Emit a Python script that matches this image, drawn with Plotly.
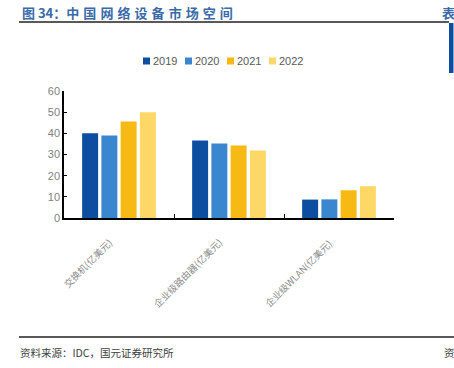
import plotly.graph_objects as go

categories = ["交换机(亿美元)", "企业级路由器(亿美元)", "企业级WLAN(亿美元)"]
years = ["2019", "2020", "2021", "2022"]
v2019 = [40.0, 36.6, 8.7]
v2020 = [39.0, 35.2, 8.8]
v2021 = [45.6, 34.3, 13.1]
v2022 = [50.0, 31.9, 15.0]
yticks = [0, 10, 20, 30, 40, 50, 60]

series = [v2019, v2020, v2021, v2022]
colors = ["#0D4EA0", "#3A87D0", "#F7B913", "#FDD867"]

W, H = 454, 368
L, R, T, B = 64, 60, 91, 150

fig = go.Figure()
for name, vals, c in zip(years, series, colors):
    fig.add_trace(go.Bar(x=categories, y=vals, name=name, marker=dict(color=c, line=dict(width=0))))

def px(x):
    return (x - L) / (W - L - R)

def py(y):
    return (H - B - y) / (H - T - B)

fig.update_layout(
    width=W, height=H,
    margin=dict(l=L, r=R, t=T, b=B, autoexpand=False),
    paper_bgcolor="white", plot_bgcolor="white",
    barmode="group", bargap=0.30, bargroupgap=0.17,
    font=dict(family="Liberation Sans, Arial", color="#595959"),
    showlegend=False,
    xaxis=dict(showline=True, linecolor="black", linewidth=1.5, ticks="inside", ticklen=4,
               tickcolor="black", tickson="boundaries", showticklabels=False,
               showgrid=False, zeroline=False, range=[-0.5, 2.5], automargin=False),
    yaxis=dict(range=[0, 60], tickvals=yticks, showline=True, linecolor="black", linewidth=1.5,
               ticks="inside", ticklen=3, tickcolor="black", showgrid=False, zeroline=False,
               tickfont=dict(size=11, color="#7f7f7f"), automargin=False),
)

# rotated category labels
for cat in categories:
    fig.add_annotation(text=cat, xref="x", yref="paper", x=cat, y=py(233),
                       xanchor="right", yanchor="top", xshift=-1, textangle=-45, showarrow=False,
                       font=dict(family="Noto Sans CJK SC", size=9.5, color="#8c8c8c"))

# manual legend
leg_x = [143, 185, 227, 269]
for yr, c, lx in zip(years, colors, leg_x):
    fig.add_shape(type="rect", xref="paper", yref="paper", x0=px(lx), x1=px(lx + 7),
                  y0=py(64.5), y1=py(57.5), line=dict(width=0), fillcolor=c)
    fig.add_annotation(text=yr, xref="paper", yref="paper", x=px(lx + 7.5), y=py(61),
                       xanchor="left", yanchor="middle", showarrow=False,
                       font=dict(size=11, color="#595959"))

sp = "\u2005\u200a"
title = "图 34：" + sp.join("中国网络设备市场空间")
fig.add_annotation(text="<b>" + title + "</b>", xref="paper", yref="paper",
                   x=px(20), y=py(12), xanchor="left", yanchor="middle", showarrow=False,
                   font=dict(family="Noto Sans CJK SC", size=13, color="#3A6AA8"))
fig.add_annotation(text="<b>表</b>", xref="paper", yref="paper",
                   x=px(440), y=py(12), xanchor="left", yanchor="middle", showarrow=False,
                   font=dict(family="Noto Sans CJK SC", size=13, color="#3A6AA8"))
# footer
fig.add_annotation(text="资料来源：IDC，国元证券研究所", xref="paper", yref="paper",
                   x=px(18), y=py(352), xanchor="left", yanchor="middle", showarrow=False,
                   font=dict(family="Noto Sans CJK SC", size=10.5, color="#404040"))
fig.add_annotation(text="资", xref="paper", yref="paper",
                   x=px(442), y=py(352), xanchor="left", yanchor="middle", showarrow=False,
                   font=dict(family="Noto Sans CJK SC", size=10.5, color="#404040"))

# lines
fig.add_shape(type="line", xref="paper", yref="paper", x0=px(19), x1=px(449), y0=py(22), y1=py(22),
              line=dict(color="#222222", width=1.5))
fig.add_shape(type="line", xref="paper", yref="paper", x0=px(19), x1=px(454), y0=py(337), y1=py(337),
              line=dict(color="#222222", width=1.5))
fig.add_shape(type="rect", xref="paper", yref="paper", x0=px(449), x1=px(453.5), y0=py(23), y1=py(73),
              line=dict(width=0), fillcolor="#0D4EA0")

fig.write_html("out.html", config={"displayModeBar": False},
               post_script="document.body.style.margin='0';document.body.style.overflow='hidden';")
